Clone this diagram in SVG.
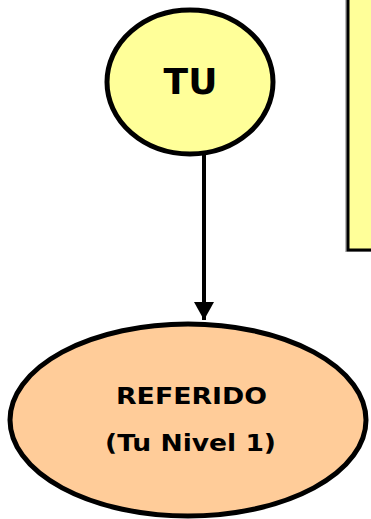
<svg xmlns="http://www.w3.org/2000/svg" width="371" height="519" viewBox="0 0 371 519">
<style>
.node{stroke:#000;stroke-width:5}
.lbl{font-family:"DejaVu Sans","Verdana",sans-serif;font-weight:bold;fill:#000;text-anchor:middle}
</style>
<defs>
<marker id="arr" markerWidth="5" markerHeight="5" refX="4.5" refY="2.5" orient="auto" markerUnits="strokeWidth"><path d="M0,0 L4.5,2.5 L0,5 Z" fill="#000"/></marker>
</defs>
<rect width="371" height="519" fill="#fff"/>
<g id="note">
<rect x="346" y="-10" width="40" height="261" fill="none" stroke="#bbb" stroke-width="2"/>
<rect x="348" y="-10" width="40" height="260" fill="#FFFF99" stroke="#000" stroke-width="3"/>
</g>
<g id="connectors">
<line x1="204" y1="154" x2="204" y2="320" stroke="#000" stroke-width="4" marker-end="url(#arr)"/>
</g>
<g id="tu">
<ellipse class="node" cx="190" cy="82" rx="83" ry="72" fill="#FFFF99"/>
<text class="lbl" x="190.5" y="94" font-size="36">TU</text>
</g>
<g id="referido">
<ellipse class="node" cx="188" cy="420" rx="178" ry="96" fill="#FFCC99"/>
<text class="lbl" x="191.5" y="404" font-size="23" textLength="151" lengthAdjust="spacingAndGlyphs">REFERIDO</text>
<text class="lbl" x="190.5" y="451" font-size="23" textLength="171" lengthAdjust="spacingAndGlyphs">(Tu Nivel 1)</text>
</g>
</svg>
